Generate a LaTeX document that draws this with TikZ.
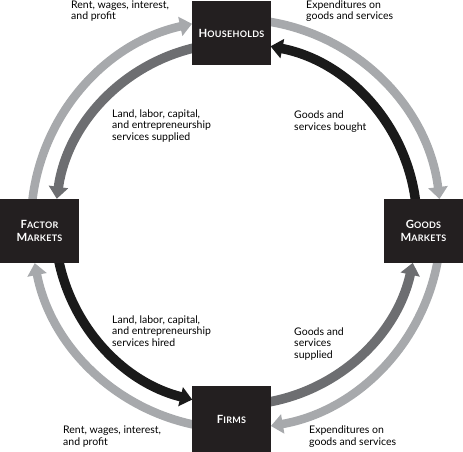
\documentclass[tikz,border=0pt]{standalone}
\usepackage{fontspec}
\setmainfont{Lato}
\newfontfamily\boxfont[LetterSpace=3]{Lato Bold}
\usetikzlibrary{arrows.meta}
\definecolor{lightarr}{HTML}{A7A9AC}
\definecolor{darkarr}{HTML}{6D6E71}
\definecolor{blackarr}{HTML}{1A1A1A}
\definecolor{boxfill}{HTML}{231F20}
\newcommand\fsc[2]{{\fontsize{11.3}{13}\selectfont #1}{\fontsize{9}{13}\selectfont #2}}
\begin{document}
\begin{tikzpicture}[x=1pt,y=1pt,
  box/.style={fill=boxfill, draw=none, minimum width=79pt, minimum height=64pt,
    inner sep=0pt, text=white, align=center, font=\boxfont\fontsize{9}{13}\selectfont},
  lbl/.style={anchor=base west, align=left, inner sep=0pt,
    font=\fontsize{10.5}{11.2}\selectfont},
  tip/.style={-{Triangle[width=19pt,length=12pt]}},
  outerflow/.style={tip, draw=lightarr, line width=8.5pt},
  grayflow/.style={tip, draw=darkarr, line width=9.5pt},
  blackflow/.style={tip, draw=blackarr, line width=9.5pt},
]
\useasboundingbox (0,0) rectangle (463,-452);
\coordinate (c) at (236,-224);
% outer money flows
\draw[outerflow] ([shift={(176:205)}]c) arc[start angle=176,end angle=102.4,radius=205];
\draw[outerflow] ([shift={(83:205)}]c) arc[start angle=83,end angle=7,radius=205];
\draw[outerflow] ([shift={(-8:205)}]c) arc[start angle=-8,end angle=-80.2,radius=205];
\draw[outerflow] ([shift={(263:205)}]c) arc[start angle=263,end angle=191,radius=205];
% inner real flows
\draw[grayflow] ([shift={(100:181)}]c) arc[start angle=100,end angle=172,radius=181];
\draw[blackflow] ([shift={(189:181)}]c) arc[start angle=189,end angle=256,radius=181];
\draw[grayflow] ([shift={(278:181)}]c) arc[start angle=278,end angle=347.6,radius=181];
\draw[blackflow] ([shift={(5:181)}]c) arc[start angle=5,end angle=79,radius=181];
% boxes
\node[box, minimum height=64pt] (households) at (231.5,-33) {\fsc{H}{OUSEHOLDS}};
\node[box] (factor) at (39.5,-231) {\fsc{F}{ACTOR}\\\fsc{M}{ARKETS}};
\node[box] (goods) at (423.5,-231) {\fsc{G}{OODS}\\\fsc{M}{ARKETS}};
\node[box, minimum height=66pt] (firms) at (231.5,-419) {\fsc{F}{IRMS}};
% labels
\node[lbl] (l1) at (71,-20) {Rent, wages, interest,\\and profit};
\node[lbl] (l2) at (306,-20) {Expenditures on\\goods and services};
\node[lbl] (l3) at (112,-140) {Land, labor, capital,\\and entrepreneurship\\services supplied};
\node[lbl] (l4) at (294,-130) {Goods and\\services bought};
\node[lbl] (l5) at (112,-346) {Land, labor, capital,\\and entrepreneurship\\services hired};
\node[lbl] (l6) at (294,-358) {Goods and\\services\\supplied};
\node[lbl] (l7) at (63,-445) {Rent, wages, interest,\\and profit};
\node[lbl] (l8) at (309,-445) {Expenditures on\\goods and services};
\end{tikzpicture}
\end{document}
